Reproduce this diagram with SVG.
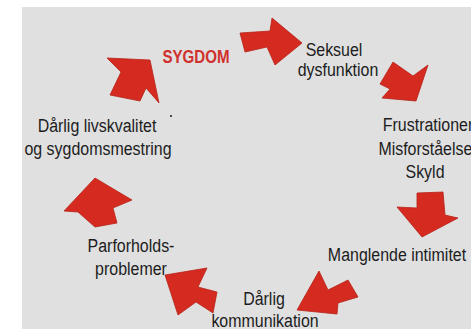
<svg xmlns="http://www.w3.org/2000/svg" width="471" height="329" viewBox="0 0 471 329">
<style>
.bg{fill:#e0e0e0}
.arr{fill:#d42a1f;stroke:#b82218;stroke-width:0.8;stroke-linejoin:round}
.t{font-family:"Liberation Sans",Arial,sans-serif;font-size:19px;fill:#1c1c1c;text-anchor:middle}
.red{fill:#d0312d;font-weight:bold;font-size:18px}
</style>
<rect width="471" height="329" fill="#ffffff"/>
<rect class="bg" x="22" y="7" width="449" height="322"/>
<g id="connectors">
<polygon class="arr" points="240,33 270,31 272,18 302,43 275,65 267,47 245,52"/>
<polygon class="arr" points="393,62 380,84 390,89 382,98 416,101 428,65 413,76"/>
<polygon class="arr" points="417,193 443,192 445,215 458,218 422,237 397,207 417,208"/>
<polygon class="arr" points="297,310 319,271 328,290 348,280 358,297 338,303 337,314"/>
<polygon class="arr" points="165,275 207,268 198,287 217,292 213,313 196,302 178,315"/>
<polygon class="arr" points="95,178 132,200 113,208 117,223 95,227 78,212 64,211"/>
<polygon class="arr" points="150,60 159,103 146,88 140,101 110,95 121,72 107,58"/>
</g>
<g id="sygdom"><text class="t red" transform="translate(196,0) scale(0.84,1)" x="0" y="63">SYGDOM</text></g>
<g id="seksuel"><text class="t" transform="translate(334,0) scale(0.84,1)" x="0" y="56">Seksuel</text><text class="t" transform="translate(338,0) scale(0.84,1)" x="0" y="76">dysfunktion</text></g>
<g id="frustration"><text class="t" transform="translate(428,0) scale(0.84,1)" x="0" y="131">Frustrationer</text><text class="t" transform="translate(428,0) scale(0.84,1)" x="0" y="155">Misforståelser</text><text class="t" transform="translate(425,0) scale(0.84,1)" x="0" y="178">Skyld</text></g>
<g id="intimitet"><text class="t" transform="translate(397,0) scale(0.84,1)" x="0" y="261">Manglende intimitet</text></g>
<g id="kommunikation"><text class="t" transform="translate(264,0) scale(0.84,1)" x="0" y="305">Dårlig</text><text class="t" transform="translate(265,0) scale(0.84,1)" x="0" y="327">kommunikation</text></g>
<g id="parforhold"><text class="t" transform="translate(131,0) scale(0.84,1)" x="0" y="252">Parforholds-</text><text class="t" transform="translate(131,0) scale(0.84,1)" x="0" y="275">problemer</text></g>
<g id="livskvalitet"><text class="t" transform="translate(97,0) scale(0.84,1)" x="0" y="132">Dårlig livskvalitet</text><text class="t" transform="translate(98,0) scale(0.84,1)" x="0" y="155">og sygdomsmestring</text><circle cx="171" cy="116" r="1" fill="#1c1c1c"/></g>
</svg>
